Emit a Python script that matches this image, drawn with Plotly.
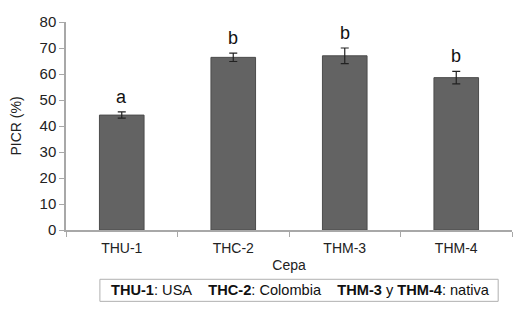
import plotly.graph_objects as go

categories = ["THU-1", "THC-2", "THM-3", "THM-4"]
picr = [44.2, 66.4, 67.0, 58.6]
err = [1.2, 1.6, 3.0, 2.4]
letters = ["a", "b", "b", "b"]

fig = go.Figure()
fig.add_trace(go.Bar(
    x=categories, y=picr, width=0.4,
    marker=dict(color="#636363", line=dict(color="#4c4c4c", width=1)),
    error_y=dict(type="data", array=err, color="#222222", thickness=1.2, width=4),
    showlegend=False,
))

for c, v, e, l in zip(categories, picr, err, letters):
    fig.add_annotation(x=c, y=v + e, text=l, showarrow=False, yshift=15,
                       font=dict(size=18, color="#111111"))

fig.add_shape(type="rect", xref="paper", yref="paper",
              x0=0.076, x1=0.969, y0=-0.343, y1=-0.237,
              line=dict(color="#b0b0b0", width=1), fillcolor="white")
fig.add_annotation(xref="paper", yref="paper", x=0.526, y=-0.29,
                   xanchor="center", yanchor="middle",
                   text="<b>THU-1</b>: USA&nbsp;&nbsp;&nbsp;&nbsp;<b>THC-2</b>: Colombia&nbsp;&nbsp;&nbsp;&nbsp;<b>THM-3</b> y <b>THM-4</b>: nativa",
                   showarrow=False, font=dict(size=14.6, color="#111111"))

fig.update_layout(
    width=526, height=320,
    margin=dict(l=66, r=14, t=22, b=90),
    paper_bgcolor="white", plot_bgcolor="white",
    font=dict(family="Liberation Sans, Arial, sans-serif", color="#222222"),
    xaxis=dict(showline=True, linecolor="#a8a8a8", linewidth=1.5, automargin=False,
               ticks="outside", tickson="boundaries", ticklen=5, tickcolor="#a8a8a8",
               ticklabelstandoff=4,
               tickfont=dict(size=14), title=dict(text="Cepa", font=dict(size=14), standoff=6)),
    yaxis=dict(range=[0, 80], dtick=10, showline=True, linecolor="#a8a8a8", linewidth=1.5,
               automargin=False,
               ticks="outside", ticklen=5, tickcolor="#a8a8a8", showgrid=False, zeroline=False,
               tickfont=dict(size=15), title=dict(text="PICR (%)", font=dict(size=14), standoff=15)),
    bargap=0.6,
)

fig.write_html("out.html", config={"displayModeBar": False},
               post_script="document.body.style.margin='0px';")
